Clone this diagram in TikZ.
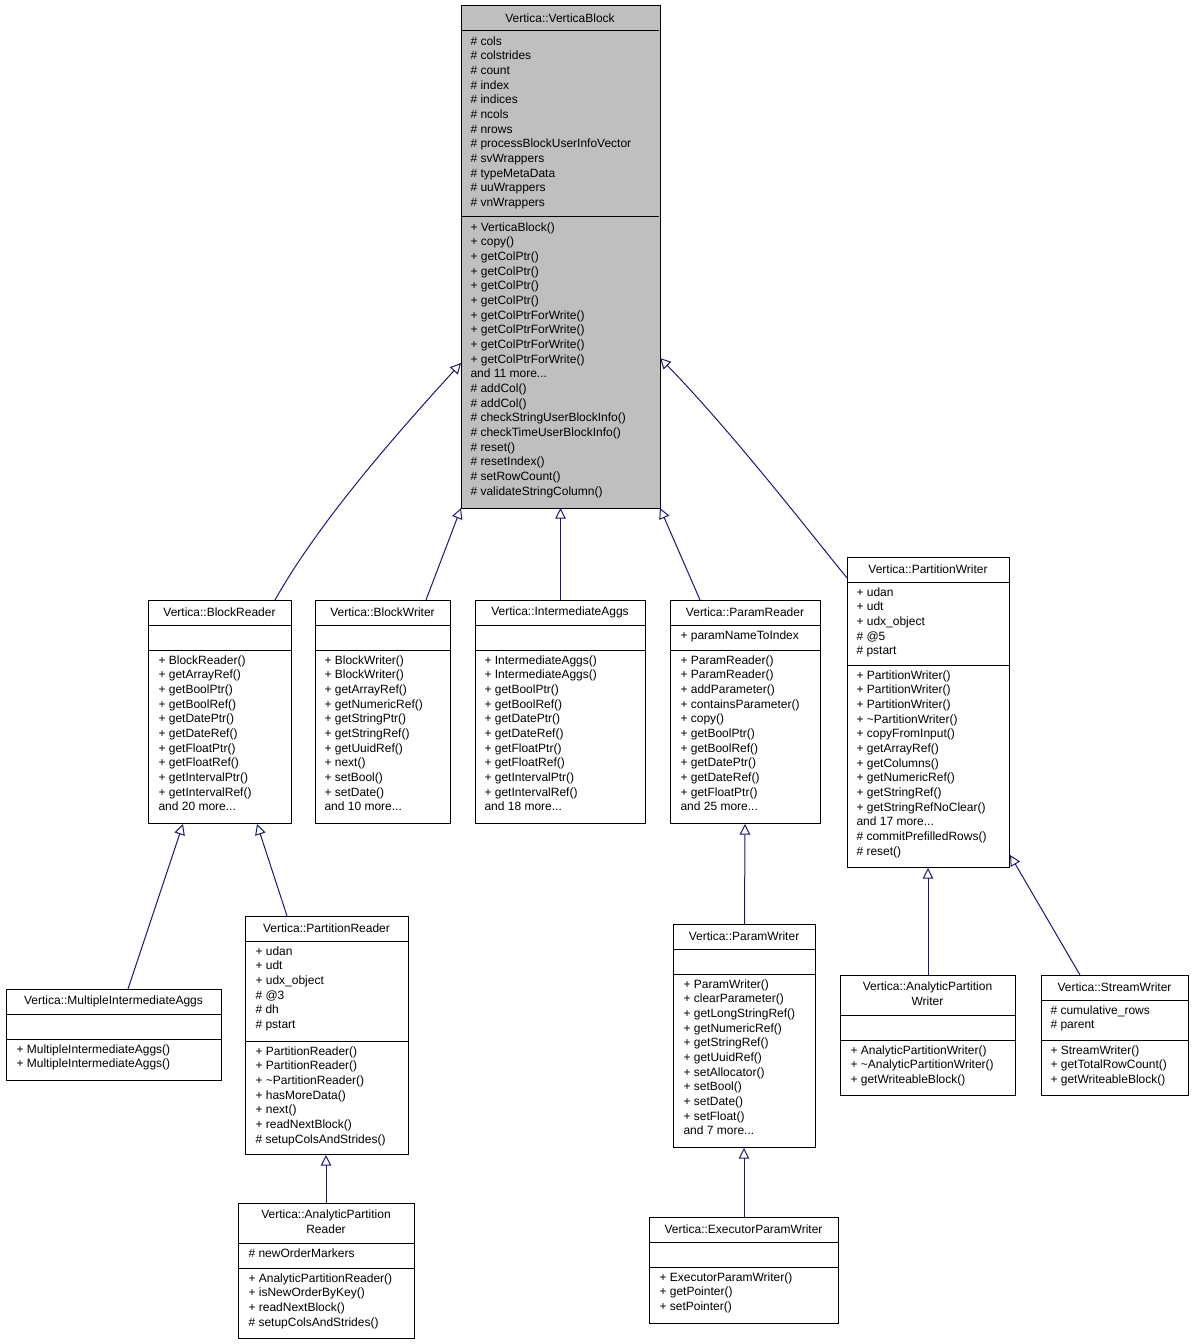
\documentclass[tikz,border=0pt]{standalone}
\usepackage{fontspec}
\setmainfont{Liberation Sans}
\usetikzlibrary{arrows.meta}
\definecolor{edgeblue}{RGB}{25,25,112}
\tikzset{every picture/.style={line width=0.75pt}}
\tikzset{
	clsbox/.style={draw, anchor=north west, inner sep=0pt, fill=white},
	members/.style={anchor=north west, inner sep=0pt, align=left, font=\fontsize{9}{11}\selectfont},
	title/.style={inner sep=0pt, align=center, font=\fontsize{9}{11}\selectfont},
	inherit/.style={draw=edgeblue, -{Triangle[open,length=8pt,width=8pt]}}
}
\newcommand{\umlclass}[5]{\node[clsbox, minimum width=#4*0.75pt, minimum height=#5*0.75pt] (#1) at (#2,#3) {};}

\begin{document}
\begin{tikzpicture}[x=0.75pt,y=0.75pt,yscale=-1,xscale=1]
	\useasboundingbox (0,0) rectangle (1194,1344);

	% Vertica::VerticaBlock
	\umlclass{vb}{461}{6}{198}{501}
	\fill[black!25] (vb.north west) rectangle (vb.south east);
	\draw (vb.north west) rectangle (vb.south east);
	\draw (461,31) -- (659,31) (461,217) -- (659,217);
	\node[title] (vb-t) at (560,18) {Vertica::VerticaBlock};
	\node[members] (vb-a) at (470,36) {\# cols\\\# colstrides\\\# count\\\# index\\\# indices\\\# ncols\\\# nrows\\\# processBlockUserInfoVector\\\# svWrappers\\\# typeMetaData\\\# uuWrappers\\\# vnWrappers};
	\node[members] (vb-m) at (470,222) {+ VerticaBlock()\\+ copy()\\+ getColPtr()\\+ getColPtr()\\+ getColPtr()\\+ getColPtr()\\+ getColPtrForWrite()\\+ getColPtrForWrite()\\+ getColPtrForWrite()\\+ getColPtrForWrite()\\and 11 more...\\\# addCol()\\\# addCol()\\\# checkStringUserBlockInfo()\\\# checkTimeUserBlockInfo()\\\# reset()\\\# resetIndex()\\\# setRowCount()\\\# validateStringColumn()};

	% Vertica::BlockReader
	\umlclass{br}{148}{600}{143}{223}
	\draw (148,625) -- (291,625) (148,650) -- (291,650);
	\node[title] (br-t) at (219.5,612) {Vertica::BlockReader};
	\node[members] (br-m) at (158,655) {+ BlockReader()\\+ getArrayRef()\\+ getBoolPtr()\\+ getBoolRef()\\+ getDatePtr()\\+ getDateRef()\\+ getFloatPtr()\\+ getFloatRef()\\+ getIntervalPtr()\\+ getIntervalRef()\\and 20 more...};

	% Vertica::BlockWriter
	\umlclass{bw}{315}{600}{135}{223}
	\draw (315,625) -- (450,625) (315,650) -- (450,650);
	\node[title] (bw-t) at (382.5,612) {Vertica::BlockWriter};
	\node[members] (bw-m) at (324,655) {+ BlockWriter()\\+ BlockWriter()\\+ getArrayRef()\\+ getNumericRef()\\+ getStringPtr()\\+ getStringRef()\\+ getUuidRef()\\+ next()\\+ setBool()\\+ setDate()\\and 10 more...};

	% Vertica::IntermediateAggs
	\umlclass{ia}{475}{600}{170}{223}
	\draw (475,625) -- (645,625) (475,650) -- (645,650);
	\node[title] (ia-t) at (560,612) {Vertica::IntermediateAggs};
	\node[members] (ia-m) at (484,655) {+ IntermediateAggs()\\+ IntermediateAggs()\\+ getBoolPtr()\\+ getBoolRef()\\+ getDatePtr()\\+ getDateRef()\\+ getFloatPtr()\\+ getFloatRef()\\+ getIntervalPtr()\\+ getIntervalRef()\\and 18 more...};

	% Vertica::ParamReader
	\umlclass{pr}{670}{600}{150}{223}
	\draw (670,625) -- (820,625) (670,650) -- (820,650);
	\node[title] (pr-t) at (745,612) {Vertica::ParamReader};
	\node[members] (pr-a) at (680,630) {+ paramNameToIndex};
	\node[members] (pr-m) at (680,655) {+ ParamReader()\\+ ParamReader()\\+ addParameter()\\+ containsParameter()\\+ copy()\\+ getBoolPtr()\\+ getBoolRef()\\+ getDatePtr()\\+ getDateRef()\\+ getFloatPtr()\\and 25 more...};

	% Vertica::PartitionWriter
	\umlclass{pw}{847}{557}{162}{310}
	\draw (847,582) -- (1009,582) (847,665) -- (1009,665);
	\node[title] (pw-t) at (928,569) {Vertica::PartitionWriter};
	\node[members] (pw-a) at (856,587) {+ udan\\+ udt\\+ udx\_object\\\# @5\\\# pstart};
	\node[members] (pw-m) at (856,670) {+ PartitionWriter()\\+ PartitionWriter()\\+ PartitionWriter()\\+ \textasciitilde PartitionWriter()\\+ copyFromInput()\\+ getArrayRef()\\+ getColumns()\\+ getNumericRef()\\+ getStringRef()\\+ getStringRefNoClear()\\and 17 more...\\\# commitPrefilledRows()\\\# reset()};

	% Vertica::MultipleIntermediateAggs
	\umlclass{mia}{6}{989}{215}{91}
	\draw (6,1014) -- (221,1014) (6,1039) -- (221,1039);
	\node[title] (mia-t) at (113.5,1001) {Vertica::MultipleIntermediateAggs};
	\node[members] (mia-m) at (16,1044) {+ MultipleIntermediateAggs()\\+ MultipleIntermediateAggs()};

	% Vertica::PartitionReader
	\umlclass{prd}{245}{916}{163}{238}
	\draw (245,941) -- (408,941) (245,1041) -- (408,1041);
	\node[title] (prd-t) at (326.5,928) {Vertica::PartitionReader};
	\node[members] (prd-a) at (255,946) {+ udan\\+ udt\\+ udx\_object\\\# @3\\\# dh\\\# pstart};
	\node[members] (prd-m) at (255,1046) {+ PartitionReader()\\+ PartitionReader()\\+ \textasciitilde PartitionReader()\\+ hasMoreData()\\+ next()\\+ readNextBlock()\\\# setupColsAndStrides()};

	% Vertica::AnalyticPartitionReader
	\umlclass{apr}{238}{1203}{176}{135}
	\draw (238,1243) -- (414,1243) (238,1268) -- (414,1268);
	\node[title] (apr-t) at (326,1222) {Vertica::AnalyticPartition\\Reader};
	\node[members] (apr-a) at (248,1248) {\# newOrderMarkers};
	\node[members] (apr-m) at (248,1273) {+ AnalyticPartitionReader()\\+ isNewOrderByKey()\\+ readNextBlock()\\\# setupColsAndStrides()};

	% Vertica::ParamWriter
	\umlclass{pwr}{673}{924}{142}{223}
	\draw (673,949) -- (815,949) (673,974) -- (815,974);
	\node[title] (pwr-t) at (744,936) {Vertica::ParamWriter};
	\node[members] (pwr-m) at (683,979) {+ ParamWriter()\\+ clearParameter()\\+ getLongStringRef()\\+ getNumericRef()\\+ getStringRef()\\+ getUuidRef()\\+ setAllocator()\\+ setBool()\\+ setDate()\\+ setFloat()\\and 7 more...};

	% Vertica::ExecutorParamWriter
	\umlclass{epw}{649}{1217}{189}{106}
	\draw (649,1242) -- (838,1242) (649,1267) -- (838,1267);
	\node[title] (epw-t) at (743.5,1229) {Vertica::ExecutorParamWriter};
	\node[members] (epw-m) at (659,1272) {+ ExecutorParamWriter()\\+ getPointer()\\+ setPointer()};

	% Vertica::AnalyticPartitionWriter
	\umlclass{apw}{840}{975}{175}{120}
	\draw (840,1015) -- (1015,1015) (840,1040) -- (1015,1040);
	\node[title] (apw-t) at (927.5,994) {Vertica::AnalyticPartition\\Writer};
	\node[members] (apw-m) at (850,1045) {+ AnalyticPartitionWriter()\\+ \textasciitilde AnalyticPartitionWriter()\\+ getWriteableBlock()};

	% Vertica::StreamWriter
	\umlclass{sw}{1041}{975}{147}{120}
	\draw (1041,1000) -- (1188,1000) (1041,1040) -- (1188,1040);
	\node[title] (sw-t) at (1114.5,987) {Vertica::StreamWriter};
	\node[members] (sw-a) at (1050,1005) {\# cumulative\_rows\\\# parent};
	\node[members] (sw-m) at (1050,1045) {+ StreamWriter()\\+ getTotalRowCount()\\+ getWriteableBlock()};

	% inheritance
	\draw[inherit] (br.north -| 275,0) .. controls (320,520) and (400,430) .. (vb.west |- 0,363);
	\draw[inherit] (bw.north -| 426,0) -- (vb.south west);
	\draw[inherit] (ia.north) -- (vb.south -| ia.north);
	\draw[inherit] (pr.north -| 700,0) -- (vb.south east);
	\draw[inherit] (pw.west |- 0,578) .. controls (800,520) and (730,430) .. (vb.east |- 0,358);
	\draw[inherit] (mia.north -| 128,0) -- (br.south -| 183,0);
	\draw[inherit] (prd.north -| 287,0) -- (br.south -| 257,0);
	\draw[inherit] (apr.north -| 326,0) -- (prd.south -| 326,0);
	\draw[inherit] (pwr.north) -- (pr.south -| 745,0);
	\draw[inherit] (epw.north -| 744,0) -- (pwr.south -| 744,0);
	\draw[inherit] (apw.north -| 928,0) -- (pw.south -| 928,0);
	\draw[inherit] (sw.north -| 1080,0) -- (1010,855);
\end{tikzpicture}
\end{document}
